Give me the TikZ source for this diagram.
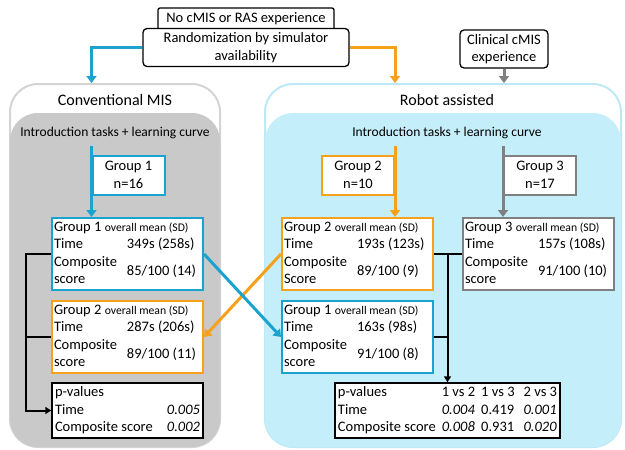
\documentclass[tikz,border=0pt]{standalone}
\usepackage{fontspec}
\setmainfont{Carlito}
\definecolor{cmBlue}{HTML}{1AA3CF}
\definecolor{cmOrange}{HTML}{F5A11C}
\definecolor{cmGrey}{HTML}{808080}
\definecolor{cmPanel}{HTML}{C9C9C9}
\definecolor{cmPanelLine}{HTML}{D4D4D4}
\definecolor{cmSky}{HTML}{C5EEFB}
\definecolor{cmSkyLine}{HTML}{BDE9F7}
\usetikzlibrary{calc,positioning,arrows.meta}

\newcommand{\smallmean}{\fontsize{11.7}{14}\selectfont}
\newcommand{\resrows}[4]{%
  \begin{tabular}{@{}p{73pt}@{}p{74pt}@{}}
    \multicolumn{2}{@{}l@{}}{Group #1 {\smallmean overall mean (SD)}}\\
    Time & #2\\
    \begin{tabular}[c]{@{}l@{}}Composite\\#4\end{tabular} & #3
  \end{tabular}}

\tikzset{
  every node/.style={font=\fontsize{14.5}{17.5}\selectfont},
  panelbox/.style={rounded corners=28pt, inner sep=0pt},
  infobox/.style={draw=black, line width=1.3pt, rounded corners=4pt, fill=white, align=center, inner sep=1pt},
  nbox/.style={draw=#1, line width=2pt, fill=white, minimum width=72pt, minimum height=39pt, align=center, inner sep=0pt},
  resbox/.style={draw=#1, line width=2pt, fill=white, inner xsep=2pt, inner ysep=1pt, minimum width=151pt, minimum height=72pt},
  pbox/.style={draw=black, line width=1.5pt, fill=white, inner xsep=3pt, inner ysep=1pt, minimum height=55pt},
  link/.style={draw=#1, line width=3pt, -{Triangle[length=7pt,width=10pt]}},
  blackline/.style={draw=black, line width=2pt},
}

\begin{document}
\begin{tikzpicture}[x=1pt, y=-1pt]
  \useasboundingbox (0,0) rectangle (625,450);

  % Conventional MIS panel
  \node[panelbox, draw=cmPanelLine, line width=2pt, minimum width=210pt, minimum height=363pt] (conv) at (115,265.5) {};
  \node[panelbox, fill=cmPanel, minimum width=210pt, minimum height=334pt] (convin) at (115,280) {};
  \node (convtitle) at (115,100) {\fontsize{16}{19}\selectfont Conventional MIS};
  \node (introl) at (115,133) {\fontsize{13.5}{16}\selectfont Introduction tasks + learning curve};

  % Robot assisted panel
  \node[panelbox, draw=cmSkyLine, line width=2pt, minimum width=356pt, minimum height=363pt] (robot) at (443,265.5) {};
  \node[panelbox, fill=cmSky, minimum width=356pt, minimum height=334pt] (robotin) at (443,280) {};
  \node (robottitle) at (447,100) {\fontsize{16}{19}\selectfont Robot assisted};
  \node (intror) at (447,133) {\fontsize{13.5}{16}\selectfont Introduction tasks + learning curve};

  % Randomization
  \node[infobox, rounded corners=2pt, minimum width=176pt, minimum height=22pt] (noexp) at (246,19) {No cMIS or RAS experience};
  \node[infobox, minimum width=206pt, minimum height=38pt] (rand) at (246,47.5) {Randomization by simulator\\availability};
  \node[infobox, minimum width=88pt, minimum height=38pt] (clin) at (504,49) {Clinical cMIS\\experience};

  % Groups
  \node[nbox=cmBlue] (gone) at (128.5,175) {Group 1\\n=16};
  \node[nbox=cmOrange] (gtwo) at (358,175) {Group 2\\n=10};
  \node[nbox=cmGrey] (gthree) at (540,175) {Group 3\\n=17};

  \draw[link=cmBlue] (rand.west) -| (gone.west |- conv.north);
  \draw[link=cmOrange] (rand.east) -| (gtwo.east |- robot.north);
  \draw[link=cmGrey] (clin.south) -- (clin.south |- robot.north);

  % Results
  \node[resbox=cmBlue] (gonel) at (127.5,254) {\resrows{1}{349s (258s)}{85/100 (14)}{score}};
  \node[resbox=cmOrange] (gtwol) at (127.5,337) {\resrows{2}{287s (206s)}{89/100 (11)}{score}};
  \node[resbox=cmOrange] (gtwor) at (357.5,254) {\resrows{2}{193s (123s)}{89/100 (9)}{Score}};
  \node[resbox=cmBlue] (goner) at (357.5,337) {\resrows{1}{163s (98s)}{91/100 (8)}{score}};
  \node[resbox=cmGrey] (gthreer) at (538.5,254) {\resrows{3}{157s (108s)}{91/100 (10)}{score}};

  \draw[link=cmBlue] ($(gone.west |- introl.south)+(0,4)$) -- (gone.west |- gonel.north);
  \draw[link=cmOrange] ($(gtwo.east |- intror.south)+(0,4)$) -- (gtwo.east |- gtwor.north);
  \draw[link=cmGrey] ($(gthree.west |- intror.south)+(0,4)$) -- (gthree.west |- gthreer.north);

  % p-values
  \node[pbox, minimum width=151pt] (pleft) at (127.5,410.5) {%
    \begin{tabular*}{145pt}{@{}l@{\extracolsep{\fill}}r@{}}
      p-values & \\
      Time & \textit{0.005}\\
      Composite score & \textit{0.002}
    \end{tabular*}};
  \node[pbox] (pright) at (447.5,410.5) {%
    \begin{tabular}{@{}l@{\hspace{6pt}}l@{\hspace{6pt}}l@{\hspace{9pt}}l@{}}
      p-values & 1 vs 2 & 1 vs 3 & 2 vs 3\\
      Time & \textit{0.004} & 0.419 & \textit{0.001}\\
      Composite score & \textit{0.008} & 0.931 & \textit{0.020}
    \end{tabular}};

  \draw[blackline, -{Triangle[length=6pt,width=7pt]}] (gonel.west) -- ++(-25,0) coordinate (jleft) |- (pleft.west);
  \draw[blackline] (gtwol.west) -- (gtwol.west -| jleft);
  \draw[blackline] (gtwor.east) -- (gthreer.west);
  \draw[blackline, -{Triangle[length=6pt,width=7pt]}] (gtwor.east -| pright.north) -- (pright.north);
  \draw[blackline] (goner.east) -- (goner.east -| pright.north);

  % Cross-over
  \draw[link=cmOrange] (gtwor.west) -- (gtwol.east);
  \draw[link=cmBlue] (gonel.east) -- (goner.west);
\end{tikzpicture}
\end{document}
